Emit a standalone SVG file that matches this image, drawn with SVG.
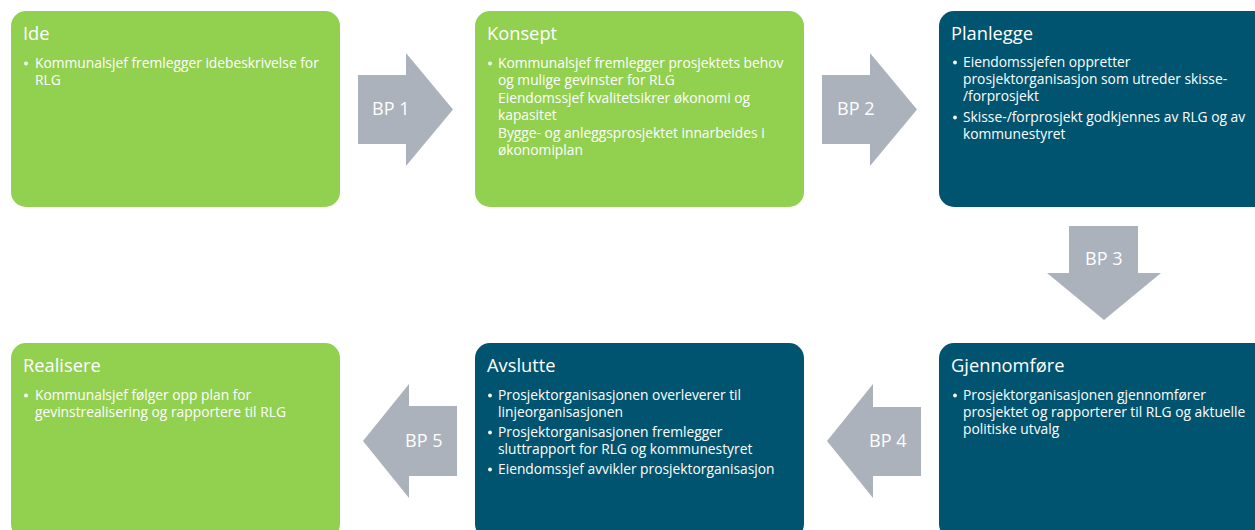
<svg xmlns="http://www.w3.org/2000/svg" width="1255" height="530" viewBox="0 0 1255 530">
<style>
.g{fill:#92D050}
.d{fill:#00546F}
.a{fill:#ABB2BC}
.dot{fill:#FFFFFF}
text{font-family:"Open Sans","Liberation Sans",sans-serif;fill:#FFFFFF}
.t{font-size:18.3px}
.b{font-size:13.8px}
.l{font-size:18px}
</style>
<rect width="1255" height="530" fill="#FFFFFF"/>
<g id="connectors">
<g id="bp1"><polygon class="a" points="358,75 406,75 406,53 453,109.5 406,166 406,144 358,144"/><text class="l" x="372" y="115">BP 1</text></g>
<g id="bp2"><polygon class="a" points="822,75 870,75 870,53 917,109.5 870,166 870,144 822,144"/><text class="l" x="837" y="115">BP 2</text></g>
<g id="bp3"><polygon class="a" points="1069,226 1138,226 1138,273 1161,273 1104,320 1047,273 1069,273"/><text class="l" x="1085" y="265">BP 3</text></g>
<g id="bp4"><polygon class="a" points="827,441 873,384 873,407 921,407 921,476 873,476 873,498"/><text class="l" x="869" y="447">BP 4</text></g>
<g id="bp5"><polygon class="a" points="363,441 409,384 409,406 457,406 457,476 409,476 409,498"/><text class="l" x="405" y="447">BP 5</text></g>
</g>
<g id="ide">
<rect class="g" x="11" y="11" width="329" height="196" rx="15"/>
<text class="t" x="23" y="40">Ide</text>
<circle class="dot" cx="26" cy="63.5" r="1.9"/>
<text class="b" x="35" y="68">Kommunalsjef fremlegger idebeskrivelse for</text>
<text class="b" x="35" y="85">RLG</text>
</g>
<g id="konsept">
<rect class="g" x="475" y="11" width="329" height="196" rx="15"/>
<text class="t" x="487" y="40">Konsept</text>
<circle class="dot" cx="490" cy="63.5" r="1.9"/>
<text class="b" x="498" y="68">Kommunalsjef fremlegger prosjektets behov</text>
<text class="b" x="498" y="85">og mulige gevinster for RLG</text>
<text class="b" x="498" y="103">Eiendomssjef kvalitetsikrer økonomi og</text>
<text class="b" x="498" y="120">kapasitet</text>
<text class="b" x="498" y="138">Bygge- og anleggsprosjektet innarbeides i</text>
<text class="b" x="498" y="155">økonomiplan</text>
</g>
<g id="planlegge">
<rect class="d" x="939" y="11" width="329" height="196" rx="15"/>
<text class="t" x="951" y="40">Planlegge</text>
<circle class="dot" cx="955" cy="62.5" r="1.9"/>
<text class="b" x="963" y="67">Eiendomssjefen oppretter</text>
<text class="b" x="963" y="84">prosjektorganisasjon som utreder skisse-</text>
<text class="b" x="963" y="101">/forprosjekt</text>
<circle class="dot" cx="955" cy="117.5" r="1.9"/>
<text class="b" x="963" y="122">Skisse-/forprosjekt godkjennes av RLG og av</text>
<text class="b" x="963" y="139">kommunestyret</text>
</g>
<g id="gjennomfore">
<rect class="d" x="939" y="343" width="329" height="196" rx="15"/>
<text class="t" x="951" y="372">Gjennomføre</text>
<circle class="dot" cx="955" cy="395.5" r="1.9"/>
<text class="b" x="963" y="400">Prosjektorganisasjonen gjennomfører</text>
<text class="b" x="963" y="417">prosjektet og rapporterer til RLG og aktuelle</text>
<text class="b" x="963" y="434">politiske utvalg</text>
</g>
<g id="avslutte">
<rect class="d" x="475" y="343" width="329" height="196" rx="15"/>
<text class="t" x="487" y="372">Avslutte</text>
<circle class="dot" cx="490" cy="395.5" r="1.9"/>
<text class="b" x="498" y="400">Prosjektorganisasjonen overleverer til</text>
<text class="b" x="498" y="417">linjeorganisasjonen</text>
<circle class="dot" cx="490" cy="432.5" r="1.9"/>
<text class="b" x="498" y="437">Prosjektorganisasjonen fremlegger</text>
<text class="b" x="498" y="454">sluttrapport for RLG og kommunestyret</text>
<circle class="dot" cx="490" cy="469.5" r="1.9"/>
<text class="b" x="498" y="474">Eiendomssjef avvikler prosjektorganisasjon</text>
</g>
<g id="realisere">
<rect class="g" x="11" y="343" width="329" height="196" rx="15"/>
<text class="t" x="23" y="372">Realisere</text>
<circle class="dot" cx="26" cy="395.5" r="1.9"/>
<text class="b" x="35" y="400">Kommunalsjef følger opp plan for</text>
<text class="b" x="35" y="417">gevinstrealisering og rapportere til RLG</text>
</g>
</svg>
